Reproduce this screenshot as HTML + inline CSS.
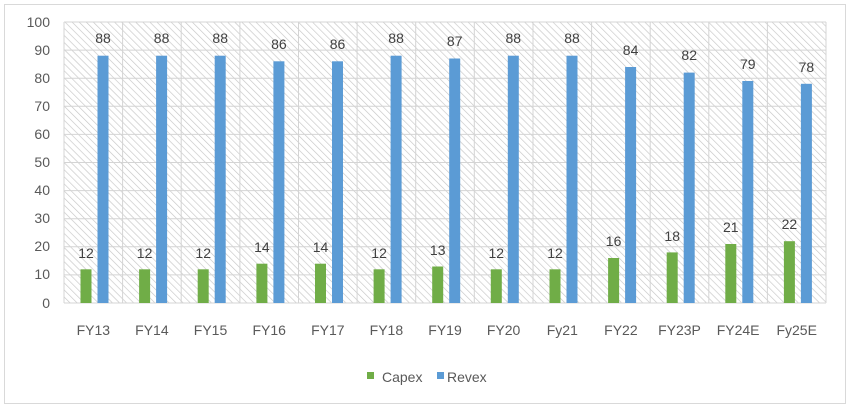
<!DOCTYPE html>
<html><head><meta charset="utf-8"><style>
html,body{margin:0;padding:0;background:#fff;}
svg{display:block;font-family:"Liberation Sans",sans-serif;}
</style></head><body>
<svg width="850" height="408" viewBox="0 0 850 408" xmlns="http://www.w3.org/2000/svg">
<defs>
<pattern id="h" width="5" height="5" patternUnits="userSpaceOnUse" patternTransform="rotate(-45)">
<rect width="5" height="5" fill="#fff"/>
<line x1="0" y1="0" x2="0" y2="5" stroke="#c6c6c6" stroke-width="1.3"/>
</pattern>
</defs>
<rect x="4.5" y="4.5" width="841" height="399" fill="#fff" stroke="#d9d9d9"/>
<rect x="64" y="22" width="762" height="281" fill="url(#h)"/>
<g stroke="#d4d4d4" stroke-width="1">
<line x1="64" y1="22" x2="826" y2="22"/><line x1="64" y1="50.1" x2="826" y2="50.1"/>
<line x1="64" y1="78.2" x2="826" y2="78.2"/><line x1="64" y1="106.3" x2="826" y2="106.3"/>
<line x1="64" y1="134.4" x2="826" y2="134.4"/><line x1="64" y1="162.5" x2="826" y2="162.5"/>
<line x1="64" y1="190.6" x2="826" y2="190.6"/><line x1="64" y1="218.7" x2="826" y2="218.7"/>
<line x1="64" y1="246.8" x2="826" y2="246.8"/><line x1="64" y1="274.9" x2="826" y2="274.9"/>
<line x1="64" y1="303" x2="826" y2="303"/>
<line x1="64" y1="22" x2="64" y2="303"/><line x1="122.6" y1="22" x2="122.6" y2="303"/>
<line x1="181.2" y1="22" x2="181.2" y2="303"/><line x1="239.9" y1="22" x2="239.9" y2="303"/>
<line x1="298.5" y1="22" x2="298.5" y2="303"/><line x1="357.1" y1="22" x2="357.1" y2="303"/>
<line x1="415.7" y1="22" x2="415.7" y2="303"/><line x1="474.3" y1="22" x2="474.3" y2="303"/>
<line x1="533" y1="22" x2="533" y2="303"/><line x1="591.6" y1="22" x2="591.6" y2="303"/>
<line x1="650.2" y1="22" x2="650.2" y2="303"/><line x1="708.8" y1="22" x2="708.8" y2="303"/>
<line x1="767.4" y1="22" x2="767.4" y2="303"/><line x1="826" y1="22" x2="826" y2="303"/>
</g>
<g fill="#595959" font-size="14" text-anchor="end">
<text x="50" y="27">100</text><text x="50" y="55">90</text><text x="50" y="83">80</text>
<text x="50" y="111">70</text><text x="50" y="139">60</text><text x="50" y="167">50</text>
<text x="50" y="195">40</text><text x="50" y="223">30</text><text x="50" y="251">20</text>
<text x="50" y="279">10</text><text x="50" y="308">0</text>
</g>
<g fill="#70ad47">
<rect x="80.5" y="269.3" width="11" height="33.7"/>
<rect x="139.1" y="269.3" width="11" height="33.7"/>
<rect x="197.7" y="269.3" width="11" height="33.7"/>
<rect x="256.4" y="263.7" width="11" height="39.3"/>
<rect x="315" y="263.7" width="11" height="39.3"/>
<rect x="373.6" y="269.3" width="11" height="33.7"/>
<rect x="432.2" y="266.5" width="11" height="36.5"/>
<rect x="490.8" y="269.3" width="11" height="33.7"/>
<rect x="549.5" y="269.3" width="11" height="33.7"/>
<rect x="608.1" y="258" width="11" height="45"/>
<rect x="666.7" y="252.4" width="11" height="50.6"/>
<rect x="725.3" y="244" width="11" height="59"/>
<rect x="783.9" y="241.2" width="11" height="61.8"/>
</g>
<g fill="#5b9bd5">
<rect x="97.5" y="55.7" width="11" height="247.3"/>
<rect x="156.1" y="55.7" width="11" height="247.3"/>
<rect x="214.7" y="55.7" width="11" height="247.3"/>
<rect x="273.4" y="61.3" width="11" height="241.7"/>
<rect x="332" y="61.3" width="11" height="241.7"/>
<rect x="390.6" y="55.7" width="11" height="247.3"/>
<rect x="449.2" y="58.5" width="11" height="244.5"/>
<rect x="507.8" y="55.7" width="11" height="247.3"/>
<rect x="566.5" y="55.7" width="11" height="247.3"/>
<rect x="625.1" y="67" width="11" height="236"/>
<rect x="683.7" y="72.6" width="11" height="230.4"/>
<rect x="742.3" y="81" width="11" height="222"/>
<rect x="800.9" y="83.8" width="11" height="219.2"/>
</g>
<g fill="#404040" font-size="14" text-anchor="middle">
<text x="86" y="258">12</text><text x="144.6" y="258">12</text><text x="203.2" y="258">12</text>
<text x="261.9" y="252">14</text><text x="320.5" y="252">14</text><text x="379.1" y="258">12</text>
<text x="437.7" y="255">13</text><text x="496.3" y="258">12</text><text x="555" y="258">12</text>
<text x="613.6" y="246">16</text><text x="672.2" y="241">18</text><text x="730.8" y="232">21</text>
<text x="789.4" y="229">22</text>
<text x="103" y="43">88</text><text x="161.6" y="43">88</text><text x="220.2" y="43">88</text>
<text x="278.9" y="49">86</text><text x="337.5" y="49">86</text><text x="396.1" y="43">88</text>
<text x="454.7" y="46">87</text><text x="513.3" y="43">88</text><text x="572" y="43">88</text>
<text x="630.6" y="55">84</text><text x="689.2" y="60">82</text><text x="747.8" y="69">79</text>
<text x="806.4" y="72">78</text>
</g>
<g fill="#595959" font-size="14" text-anchor="middle">
<text x="93.3" y="335">FY13</text><text x="151.9" y="335">FY14</text><text x="210.5" y="335">FY15</text>
<text x="269.2" y="335">FY16</text><text x="327.8" y="335">FY17</text><text x="386.4" y="335">FY18</text>
<text x="445" y="335">FY19</text><text x="503.6" y="335">FY20</text><text x="562.3" y="335">Fy21</text>
<text x="620.9" y="335">FY22</text><text x="679.5" y="335">FY23P</text><text x="738.1" y="335">FY24E</text>
<text x="796.7" y="335">Fy25E</text>
</g>
<rect x="367" y="372" width="7" height="7" fill="#70ad47"/>
<text x="382" y="382" font-size="14" fill="#595959">Capex</text>
<rect x="437" y="372" width="7" height="7" fill="#5b9bd5"/>
<text x="447" y="382" font-size="14" fill="#595959">Revex</text>
</svg>
</body></html>
